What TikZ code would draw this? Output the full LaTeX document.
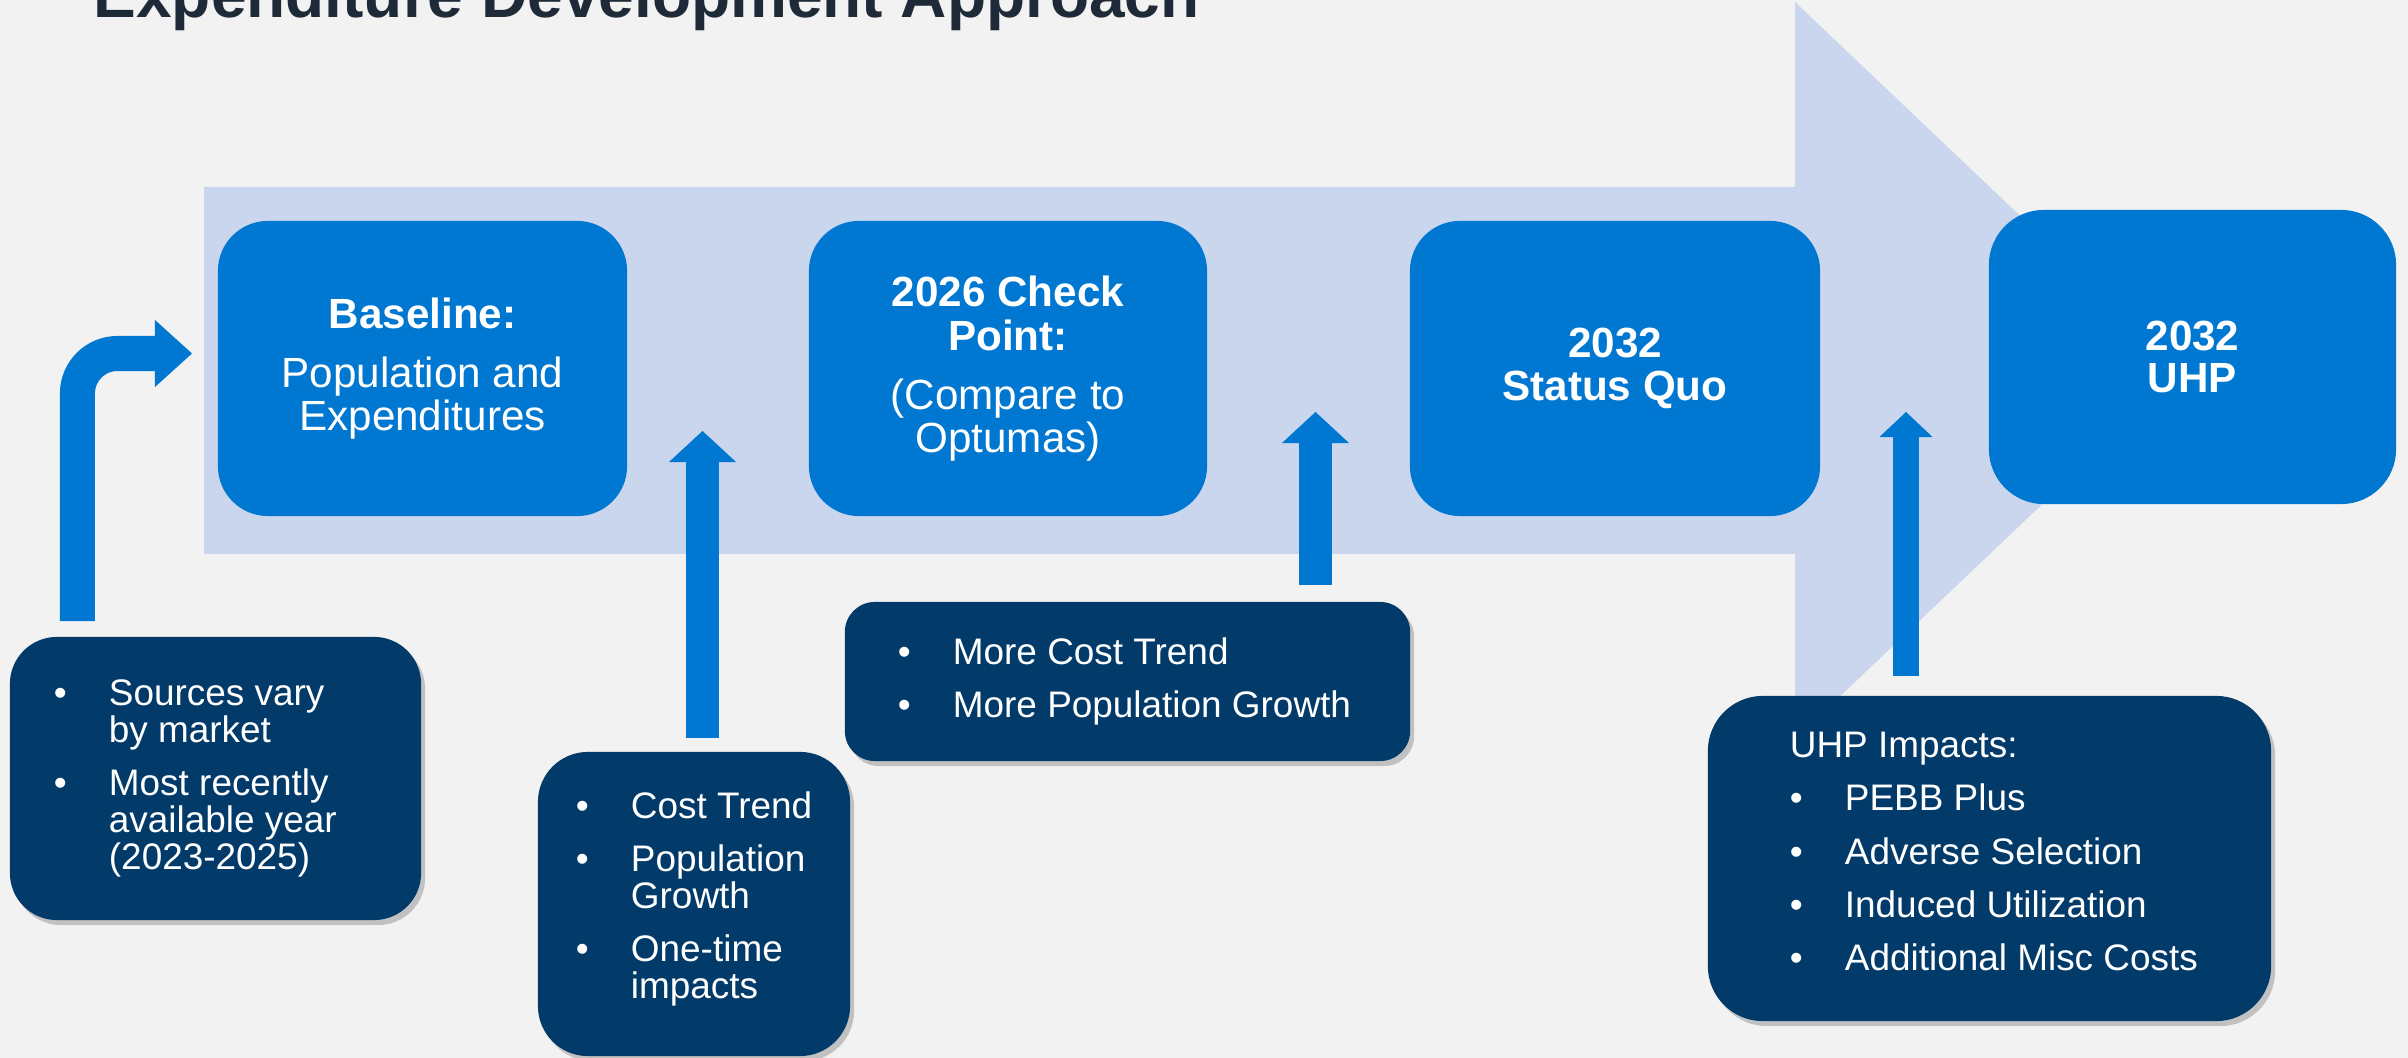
\documentclass[tikz,border=0pt]{standalone}
\usepackage{fontspec}
\setmainfont{Liberation Sans}
\usetikzlibrary{arrows.meta,shadows}

\definecolor{paper}{HTML}{F2F2F2}
\definecolor{band}{HTML}{CAD6EE}
\definecolor{stageblue}{HTML}{0077D0}
\definecolor{navy}{HTML}{023A69}
\definecolor{titleink}{HTML}{1E2A38}

% bullet and hanging indent for the note boxes
\newcommand{\bitem}{\makebox[0.55cm][l]{\textbullet}}
\newcommand{\bcont}{\hspace*{0.55cm}}

\begin{document}
\begin{tikzpicture}[x=0.01cm,y=-0.01cm,
  stage/.style={fill=stageblue, text=white, rounded corners=0.5cm, inner sep=0pt,
    minimum width=4.09cm, minimum height=2.95cm, align=center,
    font=\fontsize{12}{12}\selectfont},
  memo/.style={fill=navy, inner sep=0pt,
    drop shadow={shadow xshift=0.04cm, shadow yshift=-0.05cm, fill=black, opacity=0.2}},
  memotext/.style={text=white, align=left, inner sep=0pt, anchor=west,
    font=\fontsize{10.5}{10.5}\selectfont},
  rise/.style={draw=stageblue, line width=0.33cm,
    -{Triangle[length=0.31cm, width=0.67cm, line width=0pt]}}]

  \useasboundingbox (0,0) rectangle (2408,1058);
  \fill[paper] (0,0) rectangle (2408,1058);

  % the wide arrow running behind the stages
  \fill[band] (204,187) -- (1795,187) -- (1795,2) -- (2183,370.5)
    -- (1795,739) -- (1795,554) -- (204,554) -- cycle;

  \node[anchor=base west, inner sep=0pt, text=titleink,
    font=\fontsize{18.2}{18.2}\selectfont\bfseries] (title) at (93,18)
    {Expenditure Development Approach};

  % stages
  \node[stage] (base) at (422.5,368.5)
    {\textbf{Baseline:}\\[4.8pt]Population and\\Expenditures};
  \node[stage, minimum width=3.98cm] (check) at (1008,368.5)
    {\textbf{2026 Check}\\[0.5pt]\textbf{Point:}\\[4.8pt](Compare to\\Optumas)};
  \node[stage, minimum width=4.10cm] (status) at (1615,368.5)
    {\textbf{2032}\\\textbf{Status Quo}};
  \node[stage, minimum width=4.07cm, minimum height=2.94cm, rounded corners=0.55cm] (uhp) at (2192.5,357)
    {\textbf{2032}\\\textbf{UHP}};

  % notes under the band
  \node[memo, rounded corners=0.47cm, minimum width=4.11cm, minimum height=2.83cm] (note1) at (215.5,778.5) {};
  \node[memotext] (note1txt) at ([xshift=0.44cm]note1.west)
    {\bitem Sources vary\\\bcont by market\\[4.7pt]\bitem Most recently\\\bcont available year\\\bcont (2023-2025)};

  \node[memo, rounded corners=0.5cm, minimum width=3.12cm, minimum height=3.04cm] (note2) at (694,904) {};
  \node[memotext] (note2txt) at ([xshift=0.38cm, yshift=0.05cm]note2.west)
    {\bitem Cost Trend\\[4.7pt]\bitem Population\\\bcont Growth\\[4.7pt]\bitem One-time\\\bcont impacts};

  \node[memo, rounded corners=0.3cm, minimum width=5.65cm, minimum height=1.59cm] (note3) at (1127.5,681.5) {};
  \node[memotext] (note3txt) at ([xshift=0.53cm]note3.west)
    {\bitem More Cost Trend\\[4.7pt]\bitem More Population Growth};

  \node[memo, rounded corners=0.55cm, minimum width=5.63cm, minimum height=3.25cm] (note4) at (1989.5,858.5) {};
  \node[memotext] (note4txt) at ([xshift=0.82cm, yshift=0.07cm]note4.west)
    {UHP Impacts:\\[4.7pt]\bitem PEBB Plus\\[4.7pt]\bitem Adverse Selection\\[4.7pt]\bitem Induced Utilization\\[4.7pt]\bitem Additional Misc Costs};

  % arrows feeding the stages
  \coordinate (tip1) at (192,353.5);
  \coordinate (tip2) at (702.5,431);
  \coordinate (tip3) at (1315.5,412);
  \coordinate (tip4) at (1906,412);

  \draw[rise, line width=0.35cm, rounded corners=0.4cm, shorten <=0.15cm,
    -{Triangle[length=0.37cm, width=0.67cm, line width=0pt]}]
    ([xshift=-1.38cm]note1.north) |- (tip1);
  \draw[rise, shorten <=0.13cm] (tip2 |- note2.north) -- (tip2);
  \draw[rise, shorten <=0.16cm] (tip3 |- note3.north) -- (tip3);
  \draw[rise, line width=0.26cm, shorten <=0.19cm,
    -{Triangle[length=0.25cm, width=0.53cm, line width=0pt]}]
    (tip4 |- note4.north) -- (tip4);
\end{tikzpicture}
\end{document}
